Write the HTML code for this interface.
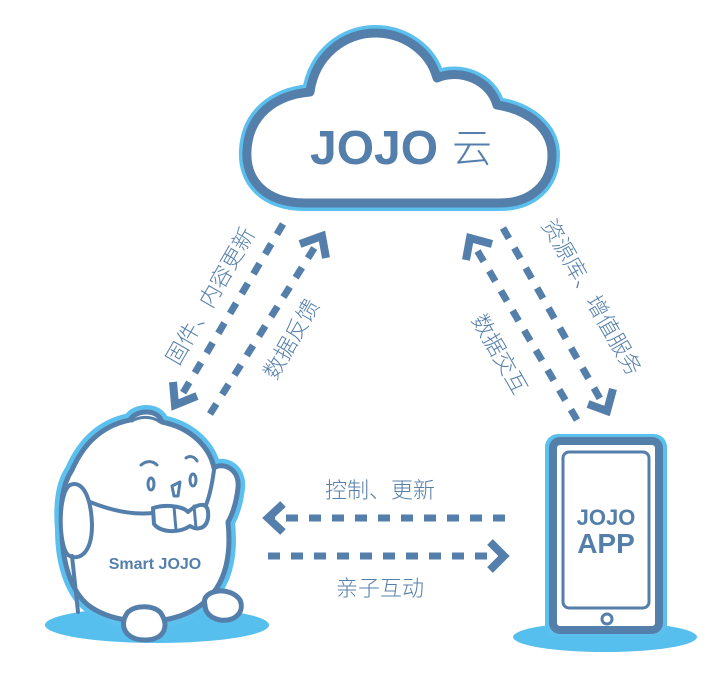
<!DOCTYPE html>
<html><head><meta charset="utf-8"><style>
html,body{margin:0;padding:0;background:#fff;}
svg{display:block;}
text{font-family:"Liberation Sans","Noto Sans CJK SC",sans-serif;fill:#557fab;}
</style></head><body>
<svg width="722" height="698" viewBox="0 0 722 698" xmlns="http://www.w3.org/2000/svg">
<!-- cloud -->
<path d="M305 203 C265 203 245 180 247 150 C249 115 275 95 310 92 C315 55 345 33 375 33 C405 33 430 52 437 78 C460 68 490 80 497 105 C530 110 552 130 552 155 C552 185 530 203 500 203 Z" fill="#fff" stroke="#5bc0ee" stroke-width="16" stroke-linejoin="round"/>
<path d="M305 203 C265 203 245 180 247 150 C249 115 275 95 310 92 C315 55 345 33 375 33 C405 33 430 52 437 78 C460 68 490 80 497 105 C530 110 552 130 552 155 C552 185 530 203 500 203 Z" fill="#fff" stroke="#557fab" stroke-width="9" stroke-linejoin="round"/>
<text x="310" y="164" font-size="48" font-weight="bold">JOJO</text>
<text x="452" y="162" font-size="40" font-family="Noto Sans CJK SC,sans-serif" font-weight="300">云</text>

<!-- arrows -->
<g stroke="#557fab" stroke-width="7" fill="none" stroke-dasharray="12 11">
<line x1="283" y1="224" x2="180" y2="398"/>
<line x1="210" y1="414" x2="318" y2="242"/>
<line x1="577" y1="420" x2="474" y2="245"/>
<line x1="503" y1="228" x2="603" y2="404"/>
<line x1="505" y1="518" x2="272" y2="518"/>
<line x1="268" y1="556" x2="500" y2="556"/>
</g>
<g stroke="#557fab" stroke-width="8" fill="none" stroke-linejoin="miter" stroke-linecap="butt">
<polyline points="173,382 175,405 197,396"/>
<polyline points="300,244 322,236 326,258"/>
<polyline points="466,260 470,238 492,244"/>
<polyline points="588,404 607,411 613,389"/>
<polyline points="283,504 268,518 283,532"/>
<polyline points="490,542 504,556 490,570"/>
</g>
<g font-size="22" font-family="Noto Sans CJK SC,sans-serif" font-weight="300">
<text transform="translate(212,297) rotate(-60)" text-anchor="middle" dominant-baseline="middle">固件、内容更新</text>
<text transform="translate(293,340) rotate(-60)" text-anchor="middle" dominant-baseline="middle">数据反馈</text>
<text transform="translate(590,298) rotate(60)" text-anchor="middle" dominant-baseline="middle">资源库、增值服务</text>
<text transform="translate(498,355) rotate(60)" text-anchor="middle" dominant-baseline="middle">数据交互</text>
<text x="380" y="498" text-anchor="middle">控制、更新</text>
<text x="380" y="596" text-anchor="middle">亲子互动</text>
</g>

<!-- shadows -->
<ellipse cx="157" cy="625" rx="112" ry="18" fill="#57bfee"/>
<ellipse cx="605" cy="637" rx="92" ry="15" fill="#57bfee"/>

<!-- phone -->
<rect x="545" y="434" width="122" height="203" rx="13" fill="#5bc0ee"/>
<rect x="553" y="441" width="106" height="189" rx="7" fill="#fff" stroke="#557fab" stroke-width="8"/>
<rect x="563" y="452" width="86" height="156" rx="6" fill="#fff" stroke="#557fab" stroke-width="3"/>
<circle cx="607" cy="619" r="5" fill="none" stroke="#557fab" stroke-width="3"/>
<text x="606" y="525" font-size="22" font-weight="bold" text-anchor="middle">JOJO</text>
<text x="606" y="553" font-size="28" font-weight="bold" text-anchor="middle">APP</text>

<!-- chick -->
<g stroke-linejoin="round" stroke-linecap="round">
<path id="b" d="M130 420 C135 410 158 408 162 422 C192 428 210 448 214 468 C222 462 240 468 238 488 C236 505 232 515 228 522 C232 560 225 600 180 616 C150 626 110 622 88 605 C70 590 62 560 62 530 C60 505 62 485 72 470 C85 440 105 425 130 420 Z" fill="#fff" stroke="#5bc0ee" stroke-width="14"/>
<path d="M130 420 C135 410 158 408 162 422 C192 428 210 448 214 468 C222 462 240 468 238 488 C236 505 232 515 228 522 C232 560 225 600 180 616 C150 626 110 622 88 605 C70 590 62 560 62 530 C60 505 62 485 72 470 C85 440 105 425 130 420 Z" fill="#fff" stroke="#557fab" stroke-width="5"/>
<path d="M132 421 C140 416 152 416 160 422" fill="none" stroke="#557fab" stroke-width="3"/>
<path d="M70 485 C58 492 58 545 68 555 C80 562 92 552 92 525 C91 495 82 480 70 485 Z" fill="#fff" stroke="#557fab" stroke-width="4"/>
<path d="M72 556 L78 612" stroke="#557fab" stroke-width="4"/>
<path d="M214 470 C212 485 210 495 206 505" fill="none" stroke="#557fab" stroke-width="4"/>
<path d="M90 502 C115 512 135 515 153 513" fill="none" stroke="#557fab" stroke-width="4"/>
<path d="M153 508 C170 503 185 508 188 512 C198 503 210 500 208 518 C206 530 196 530 190 526 C178 534 160 532 154 524 Z" fill="#fff" stroke="#557fab" stroke-width="4"/>
<line x1="174" y1="507" x2="176" y2="530" stroke="#557fab" stroke-width="3"/>
<line x1="194" y1="506" x2="196" y2="528" stroke="#557fab" stroke-width="3"/>
<path d="M141 465 C147 460 153 461 157 465" fill="none" stroke="#557fab" stroke-width="3"/>
<path d="M186 458 C190 455 195 457 197 461" fill="none" stroke="#557fab" stroke-width="3"/>
<ellipse cx="151" cy="484" rx="3" ry="6" fill="none" stroke="#557fab" stroke-width="3"/>
<ellipse cx="193" cy="480" rx="3" ry="6" fill="none" stroke="#557fab" stroke-width="3"/>
<path d="M172 486 L180 482 L178 496 L174 496 Z" fill="none" stroke="#557fab" stroke-width="3"/>
<path d="M128 612 C118 625 125 640 145 640 C165 640 170 625 160 612 C152 605 136 605 128 612 Z" fill="#fff" stroke="#557fab" stroke-width="5"/>
<path d="M205 605 C200 590 230 585 240 600 C245 612 235 622 220 620 C210 618 205 612 205 605 Z" fill="#fff" stroke="#557fab" stroke-width="5"/>
</g>
<text x="155" y="569" font-size="16" font-weight="bold" text-anchor="middle">Smart JOJO</text>
</svg>
</body></html>
